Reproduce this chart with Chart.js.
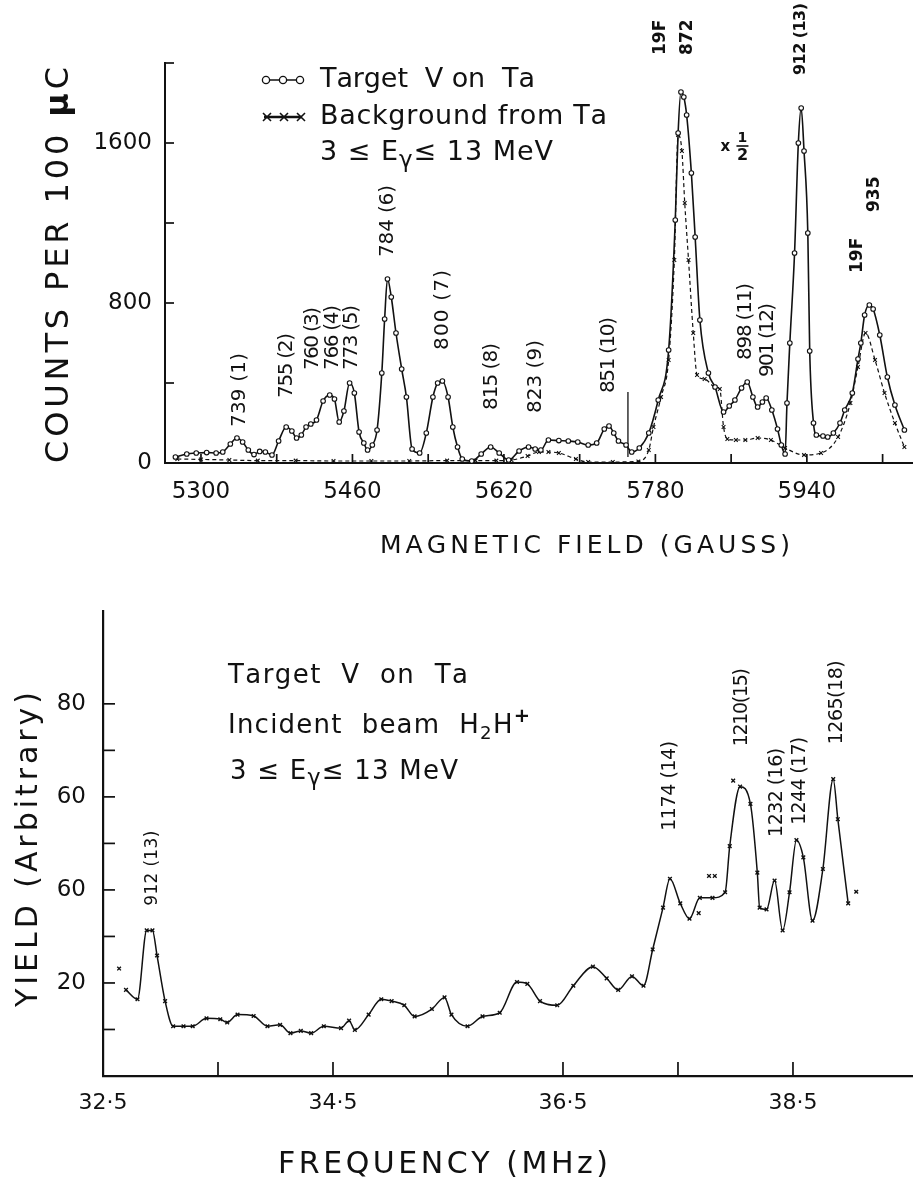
<!DOCTYPE html>
<html><head><meta charset="utf-8">
<script src="https://cdn.jsdelivr.net/npm/chart.js@4.4.1/dist/chart.umd.min.js"></script>
<style>
html,body{margin:0;padding:0;background:#fff;}
#wrap{position:relative;width:918px;height:1183px;overflow:hidden;background:#fff;}
canvas{position:absolute;left:0;}
#c1{top:0;}
#c2{top:580px;}
</style></head><body>
<div id="wrap"><canvas id="c1" width="918" height="580"></canvas><canvas id="c2" width="918" height="603"></canvas></div>
<script>
// ---------------- DATA ----------------
const targetField = [5273,5285,5295,5306,5316,5323,5331,5338,5344,5350,5356,5362,5368,5375,5382,5390,5396,5401,5406,5411,5416,5422,5429,5436,5441,5446,5451,5457,5462,5467,5472,5476,5481,5486,5491,5494,5497,5501,5506,5512,5517,5523,5531,5538,5545,5550,5555,5561,5566,5571,5576,5586,5596,5606,5615,5625,5636,5646,5653,5659,5667,5678,5688,5698,5709,5718,5726,5731,5736,5741,5749,5755,5763,5773,5783,5794,5801,5804,5807,5810,5813,5818,5822,5827,5836,5843,5852,5858,5864,5871,5877,5883,5888,5893,5897,5903,5909,5913,5917,5919,5922,5927,5931,5934,5937,5941,5943,5947,5950,5957,5962,5968,5975,5980,5988,5994,5997,6001,6006,6010,6017,6025,6033,6043];
const targetCounts = [30,45,50,52,50,55,95,125,105,65,42,58,55,40,110,180,160,125,140,180,195,215,310,340,320,205,260,400,350,155,100,65,90,165,450,720,920,830,650,470,330,70,50,150,330,400,410,330,180,80,20,10,45,80,50,15,60,80,70,65,115,112,110,105,90,100,170,185,150,110,90,55,75,150,315,565,1215,1650,1855,1830,1740,1450,1130,715,450,380,255,285,315,375,405,330,280,305,325,265,170,90,45,300,600,1050,1600,1775,1560,1150,560,200,140,135,130,150,200,265,350,520,600,740,790,770,640,430,290,165];

const bgField = [5275,5300,5330,5360,5400,5440,5480,5520,5560,5590,5612,5628,5645,5657,5667,5678,5696,5709,5735,5762,5773,5778,5786,5794,5800,5804,5808,5811,5815,5820,5824,5832,5843,5848,5852,5856,5865,5875,5888,5902,5917,5937,5955,5973,5986,5994,6002,6012,6022,6033,6043];
const bgCounts = [20,18,15,12,12,10,10,10,12,12,12,15,35,55,55,50,20,5,5,8,65,180,330,515,1015,1640,1560,1300,1015,650,440,420,380,370,180,120,115,115,125,115,75,40,50,130,300,480,650,515,350,200,80];

const markerField = [5751,5751];
const markerCounts = [30,355];

const freqMHz = [32.70,32.80,32.88,32.93,32.97,33.04,33.11,33.20,33.28,33.40,33.52,33.58,33.67,33.81,33.93,34.04,34.13,34.22,34.31,34.42,34.57,34.64,34.69,34.81,34.92,35.01,35.12,35.21,35.36,35.47,35.53,35.67,35.80,35.95,36.10,36.19,36.30,36.45,36.59,36.76,36.88,36.98,37.10,37.20,37.28,37.37,37.43,37.52,37.60,37.69,37.80,37.91,37.95,38.04,38.13,38.19,38.21,38.27,38.34,38.41,38.47,38.53,38.59,38.67,38.76,38.85,38.89,38.98];
const yieldArb = [18.5,16.5,31.3,31.3,25.9,16.1,10.7,10.7,10.7,12.4,12.2,11.5,13.2,12.9,10.7,11.0,9.2,9.7,9.2,10.7,10.3,11.9,9.9,13.2,16.5,16.1,15.2,12.8,14.4,16.9,13.2,10.7,12.8,13.6,20.2,19.8,16.1,15.2,19.4,23.5,21.0,18.5,21.4,19.4,27.2,36.2,42.4,37.1,33.8,38.3,38.3,39.5,49.4,62.2,58.5,43.7,36.2,35.8,42.0,31.3,39.5,50.7,47.0,33.4,44.5,63.8,55.2,37.1];

const strayFreq = [32.64,37.68,37.77,37.82,37.98,39.05];
const strayYield = [23.1,35.0,43.0,43.0,63.5,39.6];

const topXTicks = [5300,5380,5460,5540,5620,5700,5780,5860,5940,6020];
const topXLabelValues = [5300,5460,5620,5780,5940];
const topYTicks = [0,400,800,1200,1600,2000];
const topYLabelValues = [0,800,1600];

const botXTicks = [32.5,33.5,34.5,35.5,36.5,37.5,38.5];
const botXLabelValues = [32.5,34.5,36.5,38.5];
const botXLabelText = ['32·5','34·5','36·5','38·5'];
const botYTicks = [0,10,20,30,40,50,60,70,80];
const botYLabelValues = [20,40,60,80];
const botYLabelText = ['20','60','60','80'];

const topPeakText = ['739 (1)','755 (2)','760 (3)','766 (4)','773 (5)','784 (6)','800 (7)','815 (8)','823 (9)','851 (10)','19F','872','898 (11)','901 (12)','912 (13)','935','19F'];
const topPeakField = [5341,5391,5418,5439,5459,5497,5555,5607,5654,5731,5785,5814,5876,5899,5934,6012,5994];
const topPeakCounts = [180,325,465,465,465,1030,565,265,250,350,2040,2040,515,430,1940,1255,950];

const botPeakText = ['912 (13)','1174 (14)','1210(15)','1232 (16)','1244 (17)','1265(18)'];
const botPeakFreq = [32.93,37.43,38.06,38.36,38.56,38.88];
const botPeakYield = [36.6,52.7,70.9,51.4,54.0,71.3];

// ---------------- STYLE / DRAW HELPERS ----------------
const FAM = 'DejaVu Sans';
const INK = '#111';
const topPeakStyle = {
  len:  [74,65,63,65,65,72,80,67,73,76,0,0,77,74,72,0,0],
  size: [20,20,20,20,20,20,20,20,20,20,17,17,20,20,16,17,17],
  bold: [0,0,0,0,0,0,0,0,0,0,1,1,0,0,1,1,1]
};
const botPeakStyle = { len: [75,90,78,89,88,84], size: [17,19,19,19,19,19] };

function drawRich(ctx, segs, x, y, opt) {
  const chars = [];
  for (const s of segs) {
    const sz = (s.scale || 1) * opt.size;
    const font = `${s.weight || opt.weight || 'normal'} ${sz}px "${FAM}"`;
    ctx.font = font;
    for (const ch of s.t) chars.push({ch, font, w: ctx.measureText(ch).width, dy: (s.dy || 0) * opt.size});
  }
  const nat = chars.reduce((a, c) => a + c.w, 0);
  const gap = (opt.width && chars.length > 1) ? (opt.width - nat) / (chars.length - 1) : 0;
  const total = opt.width || nat;
  let cx = opt.align === 'center' ? x - total / 2 : x;
  ctx.textAlign = 'left';
  ctx.textBaseline = 'middle';
  ctx.fillStyle = INK;
  for (const c of chars) { ctx.font = c.font; ctx.fillText(c.ch, cx, y + c.dy); cx += c.w + gap; }
}
function drawRot(ctx, segs, x, y, opt) {
  ctx.save(); ctx.translate(x, y); ctx.rotate(-Math.PI / 2); drawRich(ctx, segs, 0, 0, opt); ctx.restore();
}

const innerTicks = {
  id: 'innerTicks',
  afterDraw(chart, args, o) {
    const {ctx, chartArea: ca, scales: {x, y}} = chart;
    ctx.save(); ctx.strokeStyle = INK; ctx.lineWidth = 1.7;
    for (const t of x.ticks) {
      if (t.value === x.min) continue;
      const px = x.getPixelForValue(t.value);
      ctx.beginPath(); ctx.moveTo(px, ca.bottom); ctx.lineTo(px, ca.bottom - o.xLen); ctx.stroke();
    }
    for (const t of y.ticks) {
      if (t.value === y.min) continue;
      const py = y.getPixelForValue(t.value);
      ctx.beginPath(); ctx.moveTo(ca.left, py); ctx.lineTo(ca.left + o.yLen, py); ctx.stroke();
    }
    ctx.restore();
  }
};

const topDecor = {
  id: 'topDecor',
  afterDraw(chart) {
    const {ctx, scales: {x, y}} = chart;
    ctx.save();
    drawRot(ctx, [{t: 'COUNTS PER 100 '}, {t: 'μ', weight: 'bold'}, {t: 'C'}], 60, 463, {size: 32, width: 396});
    drawRich(ctx, [{t: 'MAGNETIC FIELD (GAUSS)'}], 585, 546, {size: 25, width: 410, align: 'center'});
    ctx.strokeStyle = INK; ctx.lineWidth = 1.3;
    ctx.beginPath(); ctx.moveTo(264, 80); ctx.lineTo(302, 80); ctx.stroke();
    for (const cx of [266, 283, 300]) { ctx.beginPath(); ctx.arc(cx, 80, 3.6, 0, Math.PI * 2); ctx.fillStyle = '#fff'; ctx.fill(); ctx.stroke(); }
    ctx.lineWidth = 2.6;
    ctx.beginPath(); ctx.moveTo(264, 117); ctx.lineTo(302, 117); ctx.stroke();
    ctx.lineWidth = 1.6;
    for (const cx of [267, 284, 301]) {
      ctx.beginPath(); ctx.moveTo(cx - 4, 113); ctx.lineTo(cx + 4, 121); ctx.moveTo(cx + 4, 113); ctx.lineTo(cx - 4, 121); ctx.stroke();
    }
    drawRich(ctx, [{t: 'Target  V on  Ta'}], 320, 80, {size: 27, width: 215});
    drawRich(ctx, [{t: 'Background from Ta'}], 320, 117, {size: 27, width: 287});
    drawRich(ctx, [{t: '3 ≤ E'}, {t: 'γ', scale: 0.85, dy: 0.28}, {t: '≤ 13 MeV'}], 320, 153, {size: 27, width: 233});
    topPeakText.forEach((t, i) => {
      const px = x.getPixelForValue(topPeakField[i]);
      const py = y.getPixelForValue(topPeakCounts[i]);
      drawRot(ctx, [{t}], px, py, {size: topPeakStyle.size[i], weight: topPeakStyle.bold[i] ? 'bold' : 'normal', width: topPeakStyle.len[i] || undefined});
    });
    const hx = x.getPixelForValue(5854), hy = y.getPixelForValue(1580);
    ctx.fillStyle = INK;
    ctx.font = `bold 15px "${FAM}"`; ctx.textAlign = 'center'; ctx.textBaseline = 'middle';
    ctx.fillText('x', hx, hy);
    ctx.font = `bold 14px "${FAM}"`; ctx.fillText('1', hx + 17, hy - 9);
    ctx.lineWidth = 1.6; ctx.strokeStyle = INK; ctx.beginPath(); ctx.moveTo(hx + 11, hy - 1); ctx.lineTo(hx + 23, hy - 1); ctx.stroke();
    ctx.font = `bold 16px "${FAM}"`; ctx.fillText('2', hx + 17, hy + 9);
    ctx.restore();
  }
};

const botDecor = {
  id: 'botDecor',
  afterDraw(chart) {
    const {ctx, scales: {x, y}} = chart;
    const oy = -580;
    ctx.save();
    drawRot(ctx, [{t: 'YIELD (Arbitrary)'}], 29, 1007 + oy, {size: 30, width: 315});
    drawRich(ctx, [{t: 'FREQUENCY (MHz)'}], 443, 1165 + oy, {size: 30, width: 330, align: 'center'});
    drawRich(ctx, [{t: 'Target  V  on  Ta'}], 228, 676 + oy, {size: 26, width: 240});
    drawRich(ctx, [{t: 'Incident  beam  H'}, {t: '2', scale: 0.7, dy: 0.3}, {t: 'H'}, {t: '+', scale: 0.75, dy: -0.35, weight: 'bold'}], 228, 726 + oy, {size: 26, width: 302});
    drawRich(ctx, [{t: '3 ≤ E'}, {t: 'γ', scale: 0.85, dy: 0.28}, {t: '≤ 13 MeV'}], 230, 772 + oy, {size: 26, width: 228});
    botPeakText.forEach((t, i) => {
      const px = x.getPixelForValue(botPeakFreq[i]);
      const py = y.getPixelForValue(botPeakYield[i]);
      drawRot(ctx, [{t}], px, py, {size: botPeakStyle.size[i], width: botPeakStyle.len[i]});
    });
    ctx.restore();
  }
};

// ---------------- TOP CHART ----------------
new Chart(document.getElementById('c1'), {
  type: 'scatter',
  data: {
    datasets: [
      {
        label: 'Target V on Ta',
        data: targetField.map((v, i) => ({x: v, y: targetCounts[i]})),
        showLine: true, borderColor: INK, borderWidth: 1.6,
        cubicInterpolationMode: 'monotone',
        pointRadius: 2.3, pointBackgroundColor: '#fff', pointBorderColor: INK, pointBorderWidth: 1.1
      },
      {
        label: 'Background from Ta',
        data: bgField.map((v, i) => ({x: v, y: bgCounts[i]})),
        showLine: true, borderColor: INK, borderWidth: 1.2, borderDash: [4, 3],
        cubicInterpolationMode: 'monotone',
        pointStyle: 'crossRot', pointRadius: 2.6, pointBorderColor: INK, pointBorderWidth: 1.1
      },
      {
        label: 'marker',
        data: markerField.map((v, i) => ({x: v, y: markerCounts[i]})),
        showLine: true, borderColor: INK, borderWidth: 1.3, pointRadius: 0
      }
    ]
  },
  options: {
    responsive: false, animation: false,
    layout: {padding: {top: 63, right: 3, left: 0, bottom: 0}},
    plugins: {legend: {display: false}, tooltip: {enabled: false}, innerTicks: {xLen: 9, yLen: 9}},
    scales: {
      x: {
        type: 'linear', min: 5262, max: 6052,
        afterBuildTicks: s => { s.ticks = topXTicks.map(v => ({value: v})); },
        afterFit: s => { s.height = 117; },
        grid: {display: false, drawTicks: false},
        border: {display: true, color: INK, width: 2},
        ticks: {
          autoSkip: false, maxRotation: 0, padding: 15, color: INK,
          font: {family: FAM, size: 23},
          callback: v => topXLabelValues.includes(v) ? String(v) : ''
        }
      },
      y: {
        type: 'linear', min: 0, max: 2000,
        afterBuildTicks: s => { s.ticks = topYTicks.map(v => ({value: v})); },
        afterFit: s => { s.width = 165; },
        grid: {display: false, drawTicks: false},
        border: {display: true, color: INK, width: 2},
        ticks: {
          autoSkip: false, padding: 13, color: INK,
          font: {family: FAM, size: 23},
          callback: v => topYLabelValues.includes(v) ? String(v) : ''
        }
      }
    }
  },
  plugins: [innerTicks, topDecor]
});

// ---------------- BOTTOM CHART ----------------
new Chart(document.getElementById('c2'), {
  type: 'scatter',
  data: {
    datasets: [
      {
        label: 'Yield',
        data: freqMHz.map((v, i) => ({x: v, y: yieldArb[i]})),
        showLine: true, borderColor: INK, borderWidth: 1.5,
        cubicInterpolationMode: 'monotone',
        pointStyle: 'crossRot', pointRadius: 2.6, pointBorderColor: INK, pointBorderWidth: 1.4
      },
      {
        label: 'Stray',
        data: strayFreq.map((v, i) => ({x: v, y: strayYield[i]})),
        showLine: false,
        pointStyle: 'crossRot', pointRadius: 2.6, pointBorderColor: INK, pointBorderWidth: 1.4
      }
    ]
  },
  options: {
    responsive: false, animation: false,
    layout: {padding: {top: 29, right: 6, left: 0, bottom: 0}},
    plugins: {legend: {display: false}, tooltip: {enabled: false}, innerTicks: {xLen: 14, yLen: 12}},
    scales: {
      x: {
        type: 'linear', min: 32.5, max: 39.535,
        afterBuildTicks: s => { s.ticks = botXTicks.map(v => ({value: v})); },
        afterFit: s => { s.height = 107; },
        grid: {display: false, drawTicks: false},
        border: {display: true, color: INK, width: 2.2},
        ticks: {
          autoSkip: false, maxRotation: 0, padding: 14, color: INK,
          font: {family: FAM, size: 22},
          callback: v => { const k = botXLabelValues.findIndex(a => Math.abs(a - v) < 1e-6); return k >= 0 ? botXLabelText[k] : ''; }
        }
      },
      y: {
        type: 'linear', min: 0, max: 100,
        afterBuildTicks: s => { s.ticks = botYTicks.map(v => ({value: v})); },
        afterFit: s => { s.width = 103; },
        grid: {display: false, drawTicks: false},
        border: {display: true, color: INK, width: 2.2},
        ticks: {
          autoSkip: false, padding: 17, color: INK,
          font: {family: FAM, size: 23},
          callback: v => { const k = botYLabelValues.indexOf(v); return k >= 0 ? botYLabelText[k] : ''; }
        }
      }
    }
  },
  plugins: [innerTicks, botDecor]
});
</script>
</body></html>
